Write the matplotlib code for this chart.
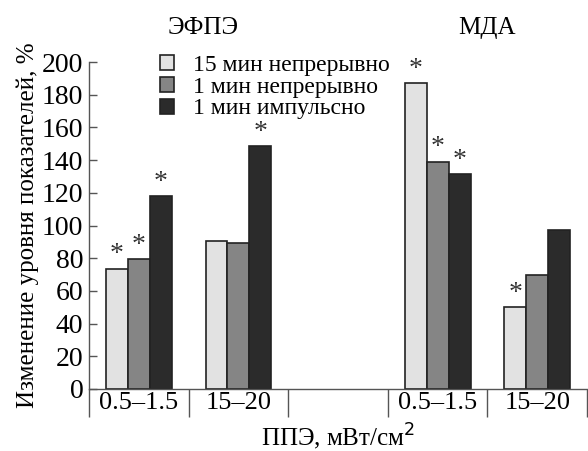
import matplotlib
matplotlib.use('Agg')
import matplotlib.pyplot as plt
import numpy as np

plt.rcParams['font.family'] = ['Liberation Serif', 'DejaVu Serif']

groups = ['0.5–1.5', '15–20', '', '0.5–1.5', '15–20']
series = ['15 мин непрерывно', '1 мин непрерывно', '1 мин импульсно']
efpe = [[73.5, 90.5], [79.5, 89], [118, 148.5]]
mda = [[187, 50], [139, 70], [131.5, 97]]
efpe_star = [[True, False], [True, False], [True, True]]
mda_star = [[True, True], [True, False], [True, False]]
colors = ['#e2e2e2', '#858585', '#2b2b2b']

fig = plt.figure(figsize=(5.88, 4.51), dpi=100)
ax = fig.add_axes([0.1514, 0.1375, 0.847, 0.725])

width = 0.22
pos_efpe = np.array([0.5, 1.5])
pos_mda = np.array([3.5, 4.5])
for i in range(3):
    off = (i - 1) * width
    ax.bar(pos_efpe + off, efpe[i], width, color=colors[i], edgecolor='#222222',
           linewidth=1.2, label=series[i])
    ax.bar(pos_mda + off, mda[i], width, color=colors[i], edgecolor='#222222',
           linewidth=1.2)
    for x, v, s in zip(pos_efpe + off, efpe[i], efpe_star[i]):
        if s:
            ax.annotate('*', (x, v), xytext=(0, 1), textcoords='offset points',
                        ha='center', va='bottom', fontsize=20, color='#333333')
    for x, v, s in zip(pos_mda + off, mda[i], mda_star[i]):
        if s:
            ax.annotate('*', (x, v), xytext=(0, 1), textcoords='offset points',
                        ha='center', va='bottom', fontsize=20, color='#333333')

ax.set_xlim(0, 5)
ax.set_ylim(0, 200)
ax.set_yticks(range(0, 201, 20))
ax.tick_params(axis='y', direction='in', length=6, width=1, colors='#555555',
               labelcolor='black', labelsize=20, pad=4)
ax.set_xticks([0.5, 1.5, 2.5, 3.5, 4.5])
ax.set_xticklabels(groups)
ax.tick_params(axis='x', length=0, labelsize=19, pad=2)
for side in ['top', 'right']:
    ax.spines[side].set_visible(False)
for side in ['left', 'bottom']:
    ax.spines[side].set_color('#555555')
    ax.spines[side].set_linewidth(1)
ax.vlines(np.arange(0, 6), -17, 0, color='#555555', linewidth=1, clip_on=False)

ax.set_ylabel('Изменение уровня показателей, %', fontsize=18, labelpad=2)
ax.set_xlabel('ППЭ, мВт/см$^2$', fontsize=18, labelpad=6)

fig.text(203 / 588, 1 - 28 / 451, 'ЭФПЭ', ha='center', va='center', fontsize=18)
fig.text(487 / 588, 1 - 28 / 451, 'МДА', ha='center', va='center', fontsize=18)

ax.legend(loc='upper left', bbox_to_anchor=(160 / 588, 1 - 55 / 451),
          bbox_transform=fig.transFigure, frameon=False, fontsize=17,
          handlelength=0.6, handleheight=0.6, handletextpad=0.8,
          labelspacing=0.03, borderpad=0, borderaxespad=0)

fig.savefig('out.png', dpi=100)
